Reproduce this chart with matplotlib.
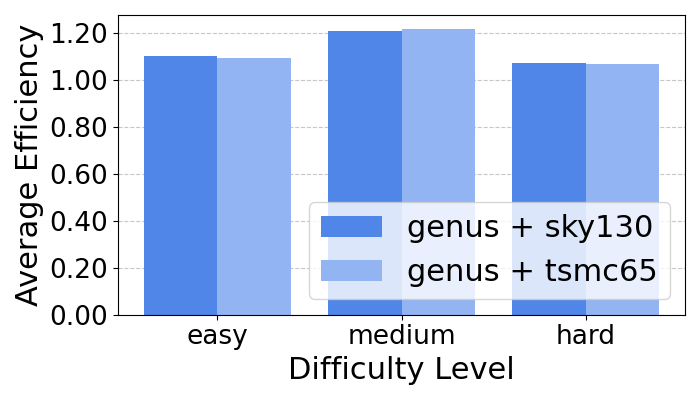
import matplotlib
matplotlib.use("Agg")
import matplotlib.pyplot as plt
import numpy as np

levels = ["easy", "medium", "hard"]
sky130 = [1.106, 1.209, 1.076]
tsmc65 = [1.097, 1.218, 1.071]

x = np.arange(len(levels))
w = 0.4

fig, ax = plt.subplots(figsize=(7, 4), dpi=100)
ax.bar(x - w / 2, sky130, w, color="#4F86E8", label="genus + sky130", zorder=2)
ax.bar(x + w / 2, tsmc65, w, color="#93B4F2", label="genus + tsmc65", zorder=2)

ax.set_xticks(x)
ax.set_xticklabels(levels)
ax.set_xlabel("Difficulty Level", fontsize=22)
ax.set_ylabel("Average Efficiency", fontsize=22)
ax.tick_params(labelsize=19)
ax.yaxis.set_major_locator(matplotlib.ticker.MultipleLocator(0.2))
ax.yaxis.set_major_formatter(matplotlib.ticker.FormatStrFormatter("%.2f"))
ax.grid(axis="y", linestyle="--", alpha=0.7, zorder=0)
ax.legend(fontsize=22, loc="lower right")

fig.tight_layout()
fig.savefig("out.png")
